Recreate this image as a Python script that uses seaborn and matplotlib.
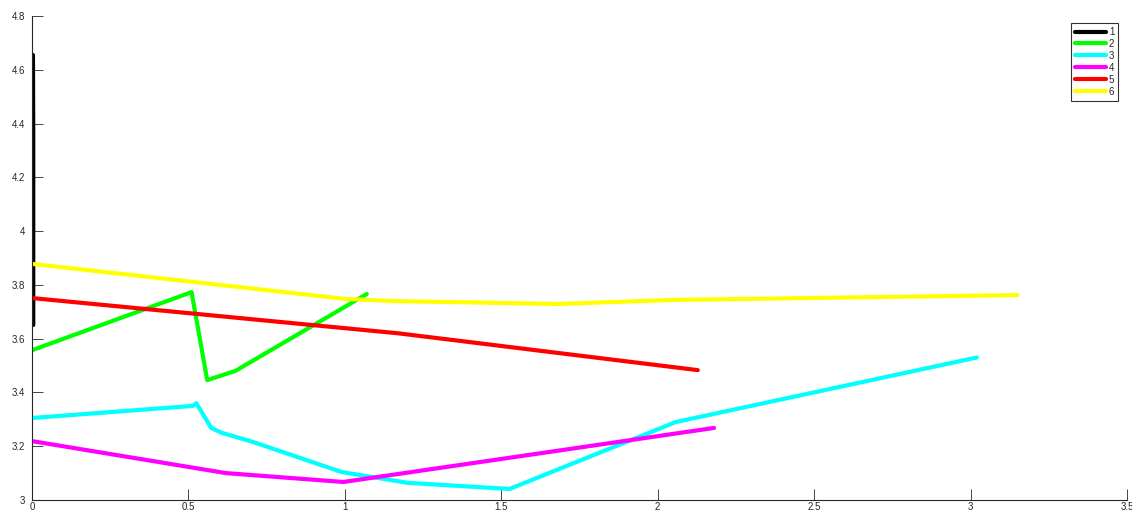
import matplotlib
matplotlib.use("Agg")
import matplotlib.pyplot as plt
import seaborn as sns
import pandas as pd

# Series data: (x, y) vertices for each numbered trace
x1 = [0.004, 0.004, 0.003]
y1 = [3.651, 4.350, 4.655]

x2 = [0.0, 0.51, 0.56, 0.65, 1.07]
y2 = [3.557, 3.773, 3.446, 3.480, 3.766]

x3 = [0.0, 0.515, 0.525, 0.573, 0.606, 0.706, 0.99, 1.20, 1.526, 2.058, 3.02]
y3 = [3.305, 3.350, 3.360, 3.268, 3.250, 3.216, 3.104, 3.064, 3.041, 3.290, 3.530]

x4 = [0.0, 0.62, 0.995, 2.18]
y4 = [3.219, 3.100, 3.067, 3.268]

x5 = [0.0, 1.17, 2.128]
y5 = [3.751, 3.620, 3.483]

x6 = [0.0, 1.0, 1.15, 1.68, 2.05, 3.15]
y6 = [3.878, 3.748, 3.740, 3.729, 3.744, 3.762]

labels = ["1", "2", "3", "4", "5", "6"]
colors = ["#000000", "#00ff00", "#00ffff", "#ff00ff", "#ff0000", "#ffff00"]

xticks = [0, 0.5, 1, 1.5, 2, 2.5, 3, 3.5]
xtick_labels = ["0", "0.5", "1", "1.5", "2", "2.5", "3", "3.5"]
yticks = [3, 3.2, 3.4, 3.6, 3.8, 4, 4.2, 4.4, 4.6, 4.8]
ytick_labels = ["3", "3.2", "3.4", "3.6", "3.8", "4", "4.2", "4.4", "4.6", "4.8"]

frames = []
for lab, xs, ys in zip(labels, [x1, x2, x3, x4, x5, x6], [y1, y2, y3, y4, y5, y6]):
    frames.append(pd.DataFrame({"x": xs, "y": ys, "series": lab}))
df = pd.concat(frames, ignore_index=True)

sns.set_style("white")
plt.rcParams["font.family"] = ["Liberation Sans", "DejaVu Sans"]

fig = plt.figure(figsize=(11.32, 5.13), dpi=100)
ax = fig.add_axes([32 / 1132, 13 / 513, 1095 / 1132, 484 / 513])

sns.lineplot(data=df, x="x", y="y", hue="series", hue_order=labels,
             palette=dict(zip(labels, colors)), sort=False, estimator=None,
             linewidth=3, ax=ax, legend=True)

ax.set_xlim(0, 3.5)
ax.set_ylim(3, 4.8)
ax.set_xticks(xticks)
ax.set_xticklabels(xtick_labels)
ax.set_yticks(yticks)
ax.set_yticklabels(ytick_labels)
ax.set_xlabel("")
ax.set_ylabel("")

for side in ["top", "right"]:
    ax.spines[side].set_visible(False)
for side in ["left", "bottom"]:
    ax.spines[side].set_color("#262626")
    ax.spines[side].set_linewidth(0.8)

ax.tick_params(axis="both", which="major", bottom=True, left=True,
               direction="in", length=8, width=0.6,
               color="#262626", labelsize=7, labelcolor="#262626")
ax.tick_params(axis="x", pad=1.5)
ax.tick_params(axis="y", pad=5)

leg = ax.legend(loc="upper right", bbox_to_anchor=(0.992, 0.9855), fontsize=7,
                handlelength=3.2, handletextpad=0.3, labelspacing=0.2,
                borderpad=0.4, frameon=True, fancybox=False, borderaxespad=0)
leg.get_frame().set_edgecolor("#000000")
leg.get_frame().set_linewidth(0.8)
for line in leg.get_lines():
    line.set_linewidth(3)

fig.savefig("out.png", dpi=100)
